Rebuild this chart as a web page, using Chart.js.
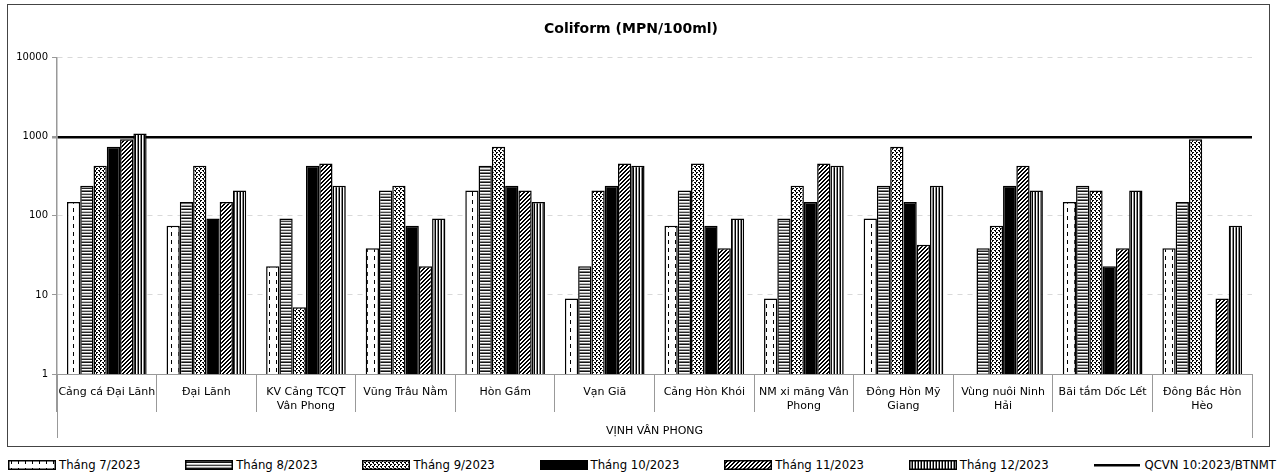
<!DOCTYPE html>
<html>
<head>
<meta charset="utf-8">
<title>Coliform (MPN/100ml)</title>
<script src="https://cdn.jsdelivr.net/npm/chart.js@4.4.1/dist/chart.umd.min.js"></script>
<style>
  html, body { margin: 0; padding: 0; background: #fff; }
  #wrap { position: relative; width: 1284px; height: 476px; }
  #chartBox { position: absolute; left: 0; top: 0; width: 1284px; height: 446px; }
  #frame { position: absolute; left: 7px; top: 4px; width: 1261px; height: 441px; border: 1px solid #444; pointer-events: none; }
  #legend { position: absolute; left: 8px; top: 457px; width: 1268px; display: flex; justify-content: space-between;
            font: 13px "DejaVu Sans Condensed", "DejaVu Sans", sans-serif; line-height: 16px; color: #000; }
  #legend .item { display: flex; align-items: center; white-space: nowrap; }
  #legend canvas { margin-right: 3px; }
</style>
</head>
<body>
<div id="wrap">
  <div id="chartBox"><canvas id="coliformChart"></canvas></div>
  <div id="frame"></div>
  <div id="legend"></div>
</div>
<script>
// categories (stations) and the group label under them
const stations = [
    "Cảng cá Đại Lãnh", "Đại Lãnh", ["KV Cảng TCQT", "Vân Phong"], "Vũng Trâu Nằm",
    "Hòn Gầm", "Vạn Giã", "Cảng Hòn Khói", ["NM xi măng Vân", "Phong"],
    ["Đông Hòn Mỹ", "Giang"], ["Vùng nuôi Ninh", "Hải"], "Bãi tắm Dốc Lết", ["Đông Bắc Hòn", "Hèo"]
];
const groupLabel = "VỊNH VÂN PHONG";

// Coliform values per month (MPN/100ml), null = no bar
const thang7 = [150, 75, 23, 39, 210, 9, 75, 9, 93, null, 150, 39];
const thang8 = [240, 150, 93, 210, 430, 23, 210, 93, 240, 39, 240, 150];
const thang9 = [430, 430, 7, 240, 750, 210, 460, 240, 750, 75, 210, 930];
const thang10 = [750, 93, 430, 75, 240, 240, 75, 150, 150, 240, 23, null];
const thang11 = [930, 150, 460, 23, 210, 460, 39, 460, 43, 430, 39, 9];
const thang12 = [1100, 210, 240, 93, 150, 430, 93, 430, 240, 210, 210, 75];

// limit of QCVN 10:2023/BTNMT (drawn as the y scale's line at this value)
const qcvnLimit = 1000;
const qcvnLabel = "QCVN 10:2023/BTNMT";

// y tick labels (log scale)
const yTicks = [1, 10, 100, 1000, 10000];

function makePattern(w, h, draw) {
    const c = document.createElement('canvas');
    c.width = w;
    c.height = h;
    const g = c.getContext('2d');
    g.fillStyle = '#fff';
    g.fillRect(0, 0, w, h);
    draw(g);
    return g.createPattern(c, 'repeat');
}

// dashed vertical
const patT7 = makePattern(7, 8, g => {
    g.fillStyle = '#000';
    g.fillRect(3, 0, 1, 4);
});
// horizontal stripes, mixed greys
const patT8 = makePattern(4, 9, g => {
    const rows = ['#fff', '#777', '#111', '#fff', '#bbb', '#444', '#eee', '#999', '#222'];
    rows.forEach((c, i) => { g.fillStyle = c; g.fillRect(0, i, 4, 1); });
});
// dots
const patT9 = makePattern(4, 4, g => {
    g.fillStyle = '#000';
    g.fillRect(0, 0, 2, 1);
    g.fillRect(0, 1, 1, 1);
    g.fillRect(2, 2, 2, 1);
    g.fillRect(3, 3, 1, 1);
});
// upward diagonal
const patT11 = makePattern(4, 4, g => {
    g.fillStyle = '#000';
    for (let i = 0; i < 4; i++) {
        g.fillRect(i, 3 - i, 1, 1);
        g.fillRect((i + 1) % 4, 3 - i, 1, 1);
    }
});
// vertical stripes
const patT12 = makePattern(3, 1, g => {
    g.fillStyle = '#000';
    g.fillRect(0, 0, 1, 1);
    g.fillStyle = '#888';
    g.fillRect(2, 0, 1, 1);
});

function barSet(label, data, fill) {
    return {
        label: label,
        data: data,
        backgroundColor: fill,
        borderColor: '#000',
        borderWidth: 1.5,
        borderSkipped: 'bottom',
        barPercentage: 1,
        categoryPercentage: 0.8
    };
}

const isLimit = c => c.tick && c.tick.value === qcvnLimit;

// side lines of the category axis reaching down to the group label
const outerLines = {
    id: 'outerLines',
    afterDraw(chart) {
        const x = chart.scales.x;
        const ctx = chart.ctx;
        ctx.save();
        ctx.strokeStyle = '#999';
        ctx.lineWidth = 1;
        [x.left, x.right].forEach(px => {
            ctx.beginPath();
            ctx.moveTo(Math.round(px) + 0.5, x.top);
            ctx.lineTo(Math.round(px) + 0.5, x.bottom - 8);
            ctx.stroke();
        });
        ctx.restore();
    }
};

// html legend: bars, then the limit line
function buildLegend(chart) {
    const box = document.getElementById('legend');
    const items = chart.data.datasets.map(ds => ({ label: ds.label, fill: ds.backgroundColor }))
        .concat([{ label: qcvnLabel, line: true }]);
    items.forEach(it => {
        const item = document.createElement('div');
        item.className = 'item';
        const sw = document.createElement('canvas');
        sw.width = 48;
        sw.height = 10;
        const g = sw.getContext('2d');
        if (it.line) {
            g.fillStyle = '#000';
            g.fillRect(1, 4, 46, 2.5);
        } else {
            g.fillStyle = it.fill;
            g.fillRect(1, 1, 46, 8);
            g.strokeStyle = '#000';
            g.lineWidth = 1.5;
            g.strokeRect(0.75, 0.75, 46.5, 8.5);
        }
        const txt = document.createElement('span');
        txt.textContent = it.label;
        item.appendChild(sw);
        item.appendChild(txt);
        box.appendChild(item);
    });
}

document.addEventListener('DOMContentLoaded', function () {
    const ctx = document.getElementById('coliformChart');

    const chart = new Chart(ctx, {
        type: 'bar',
        data: {
            labels: stations,
            datasets: [
                barSet('Tháng 7/2023', thang7, patT7),
                barSet('Tháng 8/2023', thang8, patT8),
                barSet('Tháng 9/2023', thang9, patT9),
                barSet('Tháng 10/2023', thang10, '#000'),
                barSet('Tháng 11/2023', thang11, patT11),
                barSet('Tháng 12/2023', thang12, patT12)
            ]
        },
        options: {
            responsive: true,
            maintainAspectRatio: false,
            animation: false,
            layout: { padding: { left: 10, right: 32, top: 0, bottom: 0 } },
            plugins: {
                title: {
                    display: true,
                    text: 'Coliform (MPN/100ml)',
                    color: '#000',
                    font: { family: 'DejaVu Sans', size: 14, weight: 'bold' },
                    padding: { top: 21, bottom: 20 }
                },
                legend: { display: false },
                tooltip: { enabled: false }
            },
            scales: {
                x: {
                    offset: true,
                    grid: {
                        offset: true,
                        drawOnChartArea: false,
                        drawTicks: true,
                        tickLength: 38,
                        color: '#999'
                    },
                    border: { color: '#999', width: 1 },
                    ticks: {
                        color: '#000',
                        padding: -26,
                        maxRotation: 0,
                        autoSkip: false,
                        font: { family: 'DejaVu Sans', size: 11 }
                    },
                    title: {
                        display: true,
                        text: groupLabel,
                        color: '#000',
                        font: { family: 'DejaVu Sans', size: 11 },
                        padding: { top: 0, bottom: 8 }
                    },
                    afterFit(scale) { scale.height = 72; }
                },
                y: {
                    type: 'logarithmic',
                    min: yTicks[0],
                    max: yTicks[yTicks.length - 1],
                    grid: {
                        color: c => isLimit(c) ? '#000' : '#d9d9d9',
                        lineWidth: c => isLimit(c) ? 2.5 : 1,
                        tickLength: 5,
                        tickColor: '#999'
                    },
                    border: {
                        color: '#999',
                        width: 1.5,
                        dash: c => isLimit(c) ? [] : [5, 5]
                    },
                    ticks: {
                        color: '#000',
                        padding: 4,
                        font: { family: 'DejaVu Sans', size: 10 },
                        callback: v => String(v)
                    },
                    afterBuildTicks(axis) {
                        axis.ticks = yTicks.map(v => ({ value: v }));
                    },
                    afterFit(scale) { scale.width = 47; }
                }
            }
        },
        plugins: [outerLines]
    });

    buildLegend(chart);
});
</script>
</body>
</html>
